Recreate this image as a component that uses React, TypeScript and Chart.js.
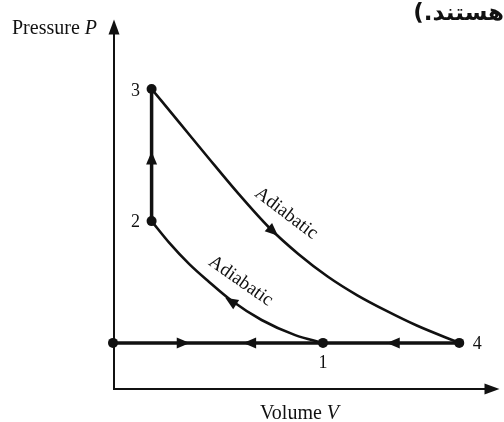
import React, { useEffect, useRef } from "react";
import { Chart, registerables } from "chart.js";

Chart.register(...registerables);

// Volume / pressure values (arbitrary units, axes 0..10)
const STATE_LABELS = ["1", "2", "3", "4"];
const STATE_V = [5.44, 1.0, 1.0, 8.97];
const STATE_P = [1.25, 4.55, 8.13, 1.25];

const ORIGIN_V = 0;
const BASE_P = 1.25;

const ADIABAT_34_V = [1.0, 1.72, 2.49, 3.26, 4.03, 4.8, 5.56, 6.33, 7.1, 7.87, 8.97];
const ADIABAT_34_P = [8.13, 7.22, 6.24, 5.28, 4.39, 3.66, 3.05, 2.54, 2.11, 1.72, 1.25];

const ADIABAT_21_V = [1.0, 1.46, 1.97, 2.49, 3.05, 3.85, 4.72, 5.44];
const ADIABAT_21_P = [4.55, 3.96, 3.39, 2.9, 2.41, 1.87, 1.46, 1.25];

// arrowheads: position and heading (data units)
const ARROW_V = [1.0, 1.82, 3.54, 7.26, 4.15, 3.05];
const ARROW_P = [6.26, 1.25, 1.25, 1.25, 4.27, 2.38];
const ARROW_DV = [0, 1, -1, -1, 1, -0.8];
const ARROW_DP = [1, 0, 0, 0, -0.95, 0.54];

const AXIS_MAX_V = 10;
const AXIS_MAX_P = 10;

const X_TITLE = "Volume ";
const X_SYMBOL = "V";
const Y_TITLE = "Pressure ";
const Y_SYMBOL = "P";
const CURVE_LABEL = "Adiabatic";
const HEADER_TEXT = "هستند.)";

const INK = "#111";
const SERIF = "'Liberation Serif', 'DejaVu Serif', serif";

function arrowHead(ctx: CanvasRenderingContext2D, x: number, y: number, ang: number, len: number, half: number) {
  ctx.save();
  ctx.translate(x, y);
  ctx.rotate(ang);
  ctx.beginPath();
  ctx.moveTo(len / 2, 0);
  ctx.lineTo(-len / 2, -half);
  ctx.lineTo(-len / 2, half);
  ctx.closePath();
  ctx.fillStyle = INK;
  ctx.fill();
  ctx.restore();
}

const decorPlugin = {
  id: "decor",
  beforeDatasetsDraw(chart: any) {
    const ctx: CanvasRenderingContext2D = chart.ctx;
    const xs = chart.scales.x;
    const ys = chart.scales.y;
    const x0 = xs.getPixelForValue(0);
    const y0 = ys.getPixelForValue(0);
    const xEnd = xs.getPixelForValue(AXIS_MAX_V);
    const yEnd = ys.getPixelForValue(AXIS_MAX_P);
    ctx.save();
    ctx.strokeStyle = INK;
    ctx.lineWidth = 2;
    ctx.beginPath();
    ctx.moveTo(x0 + 1, y0);
    ctx.lineTo(x0 + 1, yEnd + 10);
    ctx.moveTo(x0, y0);
    ctx.lineTo(xEnd - 10, y0);
    ctx.stroke();
    arrowHead(ctx, x0 + 1, yEnd + 7, -Math.PI / 2, 15, 5.5);
    arrowHead(ctx, xEnd - 7, y0, 0, 15, 5.5);
    ctx.restore();
  },
  afterDatasetsDraw(chart: any) {
    const ctx: CanvasRenderingContext2D = chart.ctx;
    const xs = chart.scales.x;
    const ys = chart.scales.y;
    const px = (v: number) => xs.getPixelForValue(v);
    const py = (p: number) => ys.getPixelForValue(p);
    ctx.save();
    // arrowheads
    for (let i = 0; i < ARROW_V.length; i++) {
      const ax = px(ARROW_V[i]);
      const ay = py(ARROW_P[i]);
      const bx = px(ARROW_V[i] + ARROW_DV[i]);
      const by = py(ARROW_P[i] + ARROW_DP[i]);
      arrowHead(ctx, ax, ay, Math.atan2(by - ay, bx - ax), 13, 5.5);
    }
    ctx.fillStyle = INK;
    // state labels
    ctx.font = `18px ${SERIF}`;
    ctx.textBaseline = "middle";
    ctx.textAlign = "center";
    const offs = [
      [0, 20],
      [-16, 1],
      [-16, 2],
      [18, 1],
    ];
    STATE_LABELS.forEach((lab, i) => {
      ctx.fillText(lab, px(STATE_V[i]) + offs[i][0], py(STATE_P[i]) + offs[i][1]);
    });
    // Adiabatic labels
    ctx.font = `19px ${SERIF}`;
    const labAt = (i: number, dx: number, dy: number, deg: number) => {
      ctx.save();
      ctx.translate(px(ARROW_V[i]) + dx, py(ARROW_P[i]) + dy);
      ctx.rotate((deg * Math.PI) / 180);
      ctx.fillText(CURVE_LABEL, 0, 0);
      ctx.restore();
    };
    labAt(4, 13, -18, 37);
    labAt(5, 10, -20, 35);
    // axis titles
    ctx.textBaseline = "alphabetic";
    ctx.textAlign = "left";
    ctx.font = `20px ${SERIF}`;
    ctx.fillText(Y_TITLE, 12, 34);
    const w1 = ctx.measureText(Y_TITLE).width;
    ctx.font = `italic 20px ${SERIF}`;
    ctx.fillText(Y_SYMBOL, 12 + w1, 34);
    ctx.font = `20px ${SERIF}`;
    ctx.fillText(X_TITLE, 260, 419);
    const w2 = ctx.measureText(X_TITLE).width;
    ctx.font = `italic 20px ${SERIF}`;
    ctx.fillText(X_SYMBOL, 260 + w2, 419);
    // header fragment
    ctx.font = "bold 23px 'DejaVu Sans'";
    ctx.direction = "rtl";
    ctx.textAlign = "right";
    ctx.fillText(HEADER_TEXT, 504, 20);
    ctx.restore();
  },
};

export default function App() {
  const ref = useRef<HTMLCanvasElement>(null);
  useEffect(() => {
    if (!ref.current) return;
    const line = (vs: number[], ps: number[], w: number) => ({
      data: vs.map((v, i) => ({ x: v, y: ps[i] })),
      showLine: true,
      borderColor: INK,
      borderWidth: w,
      pointRadius: 0,
      cubicInterpolationMode: "monotone" as const,
      fill: false,
      clip: false as const,
    });
    const chart = new Chart(ref.current, {
      type: "scatter",
      data: {
        datasets: [
          line([STATE_V[1], STATE_V[2]], [STATE_P[1], STATE_P[2]], 3.5),
          line([ORIGIN_V, STATE_V[3]], [BASE_P, BASE_P], 3.5),
          line(ADIABAT_34_V, ADIABAT_34_P, 2.6),
          line(ADIABAT_21_V, ADIABAT_21_P, 2.6),
          {
            data: [{ x: ORIGIN_V, y: BASE_P }, ...STATE_V.map((v, i) => ({ x: v, y: STATE_P[i] }))],
            pointRadius: 5,
            pointBackgroundColor: INK,
            pointBorderColor: INK,
            pointBorderWidth: 0,
            showLine: false,
            clip: false as const,
          },
        ],
      },
      options: {
        animation: false,
        responsive: false,
        events: [],
        layout: { padding: { left: 113, right: 0, top: 20, bottom: 33 } },
        plugins: { legend: { display: false }, tooltip: { enabled: false } },
        scales: {
          x: { type: "linear", min: 0, max: AXIS_MAX_V, display: false },
          y: { type: "linear", min: 0, max: AXIS_MAX_P, display: false },
        },
      },
      plugins: [decorPlugin],
    });
    return () => chart.destroy();
  }, []);
  return (
    <div style={{ position: "absolute", left: 0, top: 0, width: 504, height: 422, background: "#fff" }}>
      <canvas ref={ref} width={504} height={422} />
    </div>
  );
}
